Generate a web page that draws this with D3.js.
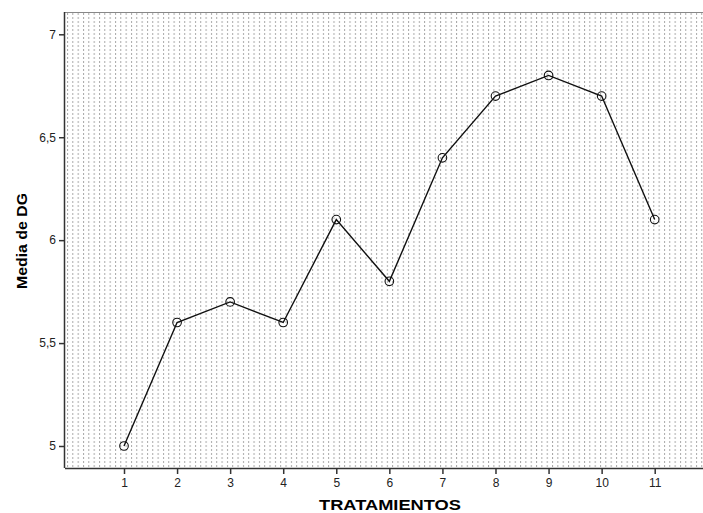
<!DOCTYPE html>
<html><head><meta charset="utf-8">
<script src="https://cdn.jsdelivr.net/npm/d3@7"></script>
<style>body{margin:0;background:#fff}svg{display:block}</style>
</head><body><svg id="c" width="703" height="513"></svg>
<script>
const categories = [1,2,3,4,5,6,7,8,9,10,11];
const values = [5.0,5.6,5.7,5.6,6.1,5.8,6.4,6.7,6.8,6.7,6.1];
const yTicks = [5,5.5,6,6.5,7];
const xTitle = "TRATAMIENTOS";
const yTitle = "Media de DG";

(function(){
const svg = d3.select("#c");
const pL = 65, pT = 12, pB = 468, pR = 703;
const x = d3.scaleLinear().domain([1,11]).range([124,654.7]);
const y = d3.scaleLinear().domain([5,7]).range([446,34.3]);
const font = "Liberation Sans, Arial, sans-serif";

const defs = svg.append("defs");
const pat = defs.append("pattern").attr("id","dots").attr("patternUnits","userSpaceOnUse")
  .attr("x",pL+2).attr("y",pT+1).attr("width",5.33).attr("height",4);
pat.append("rect").attr("x",0).attr("y",0).attr("width",1).attr("height",2).attr("fill","#a8a8a8");

svg.append("rect").attr("x",pL).attr("y",pT).attr("width",pR-pL).attr("height",pB-pT)
  .attr("fill","url(#dots)");
svg.append("line").attr("x1",pL).attr("x2",pR).attr("y1",pT+0.5).attr("y2",pT+0.5)
  .attr("stroke","#888").attr("stroke-width",1);

const xAxis = svg.append("g").attr("transform",`translate(0,${pB})`)
  .call(d3.axisBottom(x).tickValues(categories).tickSize(6).tickSizeOuter(0).tickFormat(d3.format("d")));
xAxis.select(".domain").attr("d",`M${pL},0.5H${pR}`).attr("stroke","#333").attr("stroke-width",1.5);
xAxis.selectAll(".tick line").attr("stroke","#333").attr("stroke-width",1.5);
xAxis.selectAll("text").attr("font-family",font).attr("font-size",12).attr("fill","#222").attr("dy","0.85em");

const fmt = d => String(d).replace(".",",");
const yAxis = svg.append("g").attr("transform",`translate(${pL},0)`)
  .call(d3.axisLeft(y).tickValues(yTicks).tickSize(6).tickSizeOuter(0).tickFormat(fmt));
yAxis.select(".domain").attr("d",`M-0.5,${pT}V${pB}`).attr("stroke","#333").attr("stroke-width",1.5);
yAxis.selectAll(".tick line").attr("stroke","#333").attr("stroke-width",1.5);
yAxis.selectAll("text").attr("font-family",font).attr("font-size",12).attr("fill","#222");

const line = d3.line().x((d,i)=>x(categories[i])).y(d=>y(d));
svg.append("path").datum(values).attr("d",line).attr("fill","none").attr("stroke","#111").attr("stroke-width",1.4);
svg.selectAll("circle.m").data(values).enter().append("circle").attr("class","m")
  .attr("cx",(d,i)=>x(categories[i])).attr("cy",d=>y(d)).attr("r",4.3)
  .attr("fill","none").attr("stroke","#111").attr("stroke-width",1.1);

svg.append("text").attr("x",390).attr("y",510).attr("text-anchor","middle")
  .attr("font-family",font).attr("font-weight","bold").attr("font-size",15)
  .attr("textLength",142).attr("lengthAdjust","spacingAndGlyphs").attr("fill","#000").text(xTitle);
svg.append("text").attr("transform","translate(27,241) rotate(-90)").attr("text-anchor","middle")
  .attr("font-family",font).attr("font-weight","bold").attr("font-size",14)
  .attr("textLength",96).attr("lengthAdjust","spacingAndGlyphs").attr("fill","#000").text(yTitle);
})();
</script></body></html>
